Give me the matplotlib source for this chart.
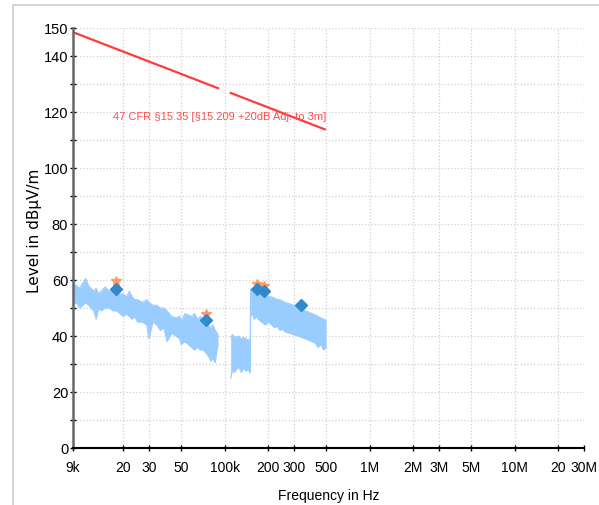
import numpy as np
import matplotlib
matplotlib.use('Agg')
import matplotlib.pyplot as plt
from matplotlib.patches import Rectangle

# spectrum envelope (kHz, upper dB, lower dB)
f1 = [9, 9.5, 10, 10.5, 11, 11.5, 12, 12.5, 13, 13.5, 14, 15, 16, 17, 18, 19, 20, 21, 22, 23,
      24, 25, 27, 29, 30, 32, 34, 36, 38, 40, 43, 46, 49, 50, 53, 56, 59, 62, 65, 68, 71, 74,
      77, 80, 83, 86, 89, 90]
hi1 = [59, 58, 57, 59, 60.5, 58, 57, 56, 57, 55, 56, 57.5, 56, 57, 56, 55, 55, 54, 56, 54,
       53, 53, 52, 53, 52, 51, 51, 50, 50, 49, 47, 46.5, 47, 45, 48, 47.5, 47, 48, 46, 47, 46, 45,
       44, 43, 44, 42, 41, 40]
lo1 = [51, 52, 50, 51, 52, 51, 50, 49, 46, 50, 49, 50, 50, 49, 49, 48, 47, 48, 47, 46,
       47, 45, 45, 44, 39, 45, 44, 42, 43, 38, 41, 40, 39, 37, 38, 37, 36, 35, 36, 35, 35, 34,
       33, 31, 32, 30.5, 36, 37]

f2 = [110, 113, 116, 120, 125, 130, 135, 140, 145, 150]
hi2 = [39.5, 40.5, 40, 39.5, 40, 39, 39.5, 39, 38.5, 39]
lo2 = [25, 28, 27, 28, 29, 27, 28.5, 27.5, 28, 27]

f3 = [151, 155, 160, 165, 170, 180, 190, 200, 210, 220, 230, 240, 250, 260, 280, 300, 320,
      340, 360, 380, 400, 420, 440, 460, 480, 500]
hi3 = [56.5, 56, 57, 56, 55.5, 55, 54.5, 54, 54, 53.5, 53, 53, 52.5, 52, 51.5, 51, 50.5,
       50, 49, 48.5, 48, 47.5, 47, 46.5, 46, 45.5]
lo3 = [47, 48, 46, 47, 46, 45, 44, 45, 44, 43, 43.5, 42, 42.5, 41.5, 41, 40.5, 40,
       39.5, 39, 38.5, 38, 37.5, 36, 37, 35, 36]

# final / peak readings (kHz, dB)
qp_f = [17.8, 74.3, 166, 186.6, 337]
qp_v = [56.7, 45.8, 56.8, 55.9, 51.1]
pk_f = [17.8, 74.3, 166, 186.6]
pk_v = [59.5, 47.9, 58.6, 57.7]

# limit line segments (kHz, dB)
lim1_f = [9, 90]
lim1_v = [148.5, 128.5]
lim2_f = [110, 490]
lim2_v = [126.8, 113.8]

xticks = [9e3, 20e3, 30e3, 50e3, 100e3, 200e3, 300e3, 500e3, 1e6, 2e6, 3e6, 5e6, 10e6, 20e6, 30e6]
xlabels = ['9k', '20', '30', '50', '100k', '200', '300', '500', '1M', '2M', '3M', '5M', '10M', '20', '30M']
yticks = [0, 20, 40, 60, 80, 100, 120, 140, 150]

fig = plt.figure(figsize=(5.99, 5.06), dpi=100)
ax = fig.add_axes([73/599, 1-449/506, 511/599, 420/506])

fig.add_artist(Rectangle((13/599, -0.1), 1.2, 1-6/506+0.1, transform=fig.transFigure,
                         fill=False, edgecolor='#cccccc', linewidth=1.2))

trace = '#99ccff'
for f, hi, lo in [(f1, hi1, lo1), (f2, hi2, lo2), (f3, hi3, lo3)]:
    f = np.array(f) * 1e3
    ax.fill_between(f, lo, hi, color=trace, linewidth=0)
    ax.plot(f, hi, color=trace, lw=0.8)
    ax.plot(f, lo, color=trace, lw=0.8)
# jump between the 150 kHz bands
ax.plot([150e3, 151e3], [lo2[-1], hi3[0]], color=trace, lw=1)

ax.plot(np.array(pk_f)*1e3, pk_v, ls='none', marker='*', ms=7, color='#ff9966', zorder=4)
ax.plot(np.array(qp_f)*1e3, qp_v, ls='none', marker='D', ms=6.5, color='#3388cc', zorder=5)

ax.plot(np.array(lim1_f)*1e3, lim1_v, color='#ff3b3b', lw=1.6)
ax.plot(np.array(lim2_f)*1e3, lim2_v, color='#ff3b3b', lw=1.6)
ax.text(17e3, 118.5, '47 CFR §15.35 [§15.209 +20dB Adj. to 3m]', color='#ff4d4d',
        fontsize=8, family='Liberation Sans', va='center', ha='left')

ax.set_xscale('log')
ax.set_xlim(9e3, 30e6)
ax.set_ylim(0, 150)
ax.set_xticks(xticks)
ax.set_xticklabels(xlabels)
ax.xaxis.set_minor_locator(matplotlib.ticker.NullLocator())
ax.set_yticks(yticks)
ax.set_yticks(range(10, 150, 20), minor=True)

for lab in ax.get_xticklabels():
    lab.set_family('Liberation Sans')
    lab.set_fontsize(10)
for lab in ax.get_yticklabels():
    lab.set_family('Liberation Sans')
    lab.set_fontsize(10.5)
ax.tick_params(axis='both', which='both', direction='inout', length=5, width=1)
ax.tick_params(axis='x', pad=6)
ax.tick_params(axis='y', pad=1)

ax.grid(True, which='major', axis='x', color='#d0d0d0', ls=':', lw=0.9)
ax.grid(True, which='both', axis='y', color='#d0d0d0', ls=':', lw=0.9)
for s in ['top', 'right']:
    ax.spines[s].set_visible(False)
ax.spines['left'].set_color('#666666')
ax.spines['left'].set_linewidth(1.8)
ax.spines['bottom'].set_linewidth(1.5)
ax.set_axisbelow(True)

ax.set_ylabel('Level in dBµV/m', fontsize=11, family='DejaVu Sans')
ax.yaxis.set_label_coords(-0.06, 0.52)
ax.set_xlabel('Frequency in Hz', fontsize=10, family='Liberation Sans')
ax.xaxis.set_label_coords(0.5, -0.095)

fig.savefig('out.png', dpi=100)
